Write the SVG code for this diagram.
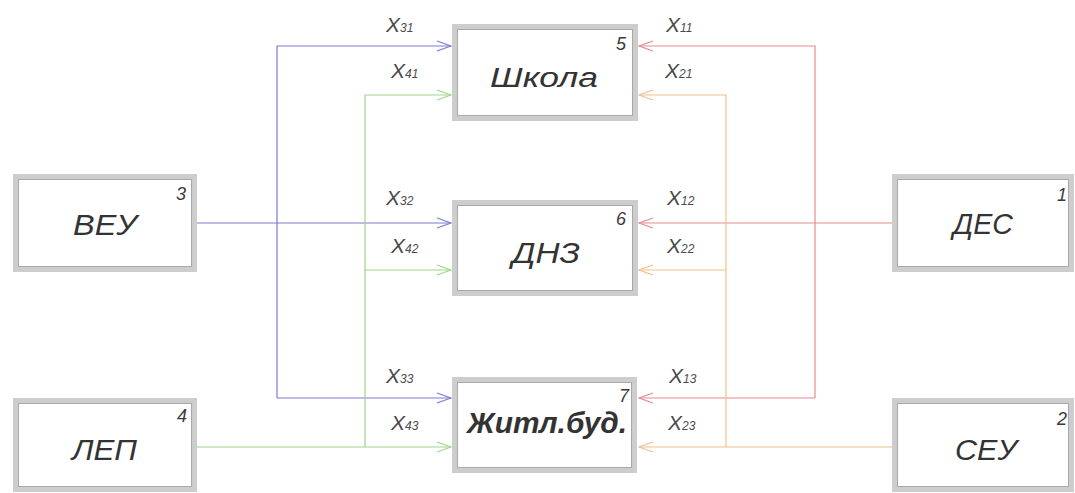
<svg xmlns="http://www.w3.org/2000/svg" width="1075" height="493" viewBox="0 0 1075 493">
  <style>
    .frame { fill: #ffffff; stroke: #cdcdcd; stroke-width: 5; }
    .inner { fill: none; stroke: #a9a9a9; stroke-width: 1; }
    .name { font-family: "Liberation Sans", "DejaVu Sans", sans-serif; font-style: italic; fill: #333333; }
    .num { font-family: "Liberation Sans", "DejaVu Sans", sans-serif; font-style: italic; font-size: 18px; fill: #3a3a3a; text-anchor: middle; }
    .lbl { font-family: "Liberation Sans", "DejaVu Sans", sans-serif; font-style: italic; font-size: 21px; fill: #4a4a4a; }
    .lbl tspan { font-size: 12px; }
    .line { fill: none; stroke-width: 1.2; }
    .blue { stroke: #7b7bd2; }
    .green { stroke: #9dd68b; }
    .red { stroke: #e38c8c; }
    .orange { stroke: #f0c08c; }
  </style>
  <defs>
    <marker id="ah-blue" markerUnits="userSpaceOnUse" markerWidth="16" markerHeight="12" viewBox="0 0 16 12" refX="15" refY="6" orient="auto">
      <path d="M1,1 L15,6 L1,11" fill="none" stroke="#7b7bd2" stroke-width="1.2"/>
    </marker>
    <marker id="ah-green" markerUnits="userSpaceOnUse" markerWidth="16" markerHeight="12" viewBox="0 0 16 12" refX="15" refY="6" orient="auto">
      <path d="M1,1 L15,6 L1,11" fill="none" stroke="#9dd68b" stroke-width="1.2"/>
    </marker>
    <marker id="ah-red" markerUnits="userSpaceOnUse" markerWidth="16" markerHeight="12" viewBox="0 0 16 12" refX="15" refY="6" orient="auto">
      <path d="M1,1 L15,6 L1,11" fill="none" stroke="#e38c8c" stroke-width="1.2"/>
    </marker>
    <marker id="ah-orange" markerUnits="userSpaceOnUse" markerWidth="16" markerHeight="12" viewBox="0 0 16 12" refX="15" refY="6" orient="auto">
      <path d="M1,1 L15,6 L1,11" fill="none" stroke="#f0c08c" stroke-width="1.2"/>
    </marker>
  </defs>
  <rect width="1075" height="493" fill="#ffffff"/>

  <!-- connectors -->
  <g id="connectors">
    <!-- ВЕУ (3) -->
    <path class="line blue" d="M197,223 H451" marker-end="url(#ah-blue)"/>
    <path class="line blue" d="M277,398 V46 H451" marker-end="url(#ah-blue)"/>
    <path class="line blue" d="M277,398 H451" marker-end="url(#ah-blue)"/>
    <!-- ЛЕП (4) -->
    <path class="line green" d="M197,447 H451" marker-end="url(#ah-green)"/>
    <path class="line green" d="M365,447 V95 H451" marker-end="url(#ah-green)"/>
    <path class="line green" d="M365,270 H451" marker-end="url(#ah-green)"/>
    <!-- ДЕС (1) -->
    <path class="line red" d="M892,223 H639" marker-end="url(#ah-red)"/>
    <path class="line red" d="M815,398 V46 H639" marker-end="url(#ah-red)"/>
    <path class="line red" d="M815,398 H639" marker-end="url(#ah-red)"/>
    <!-- СЕУ (2) -->
    <path class="line orange" d="M892,447 H639" marker-end="url(#ah-orange)"/>
    <path class="line orange" d="M726,447 V95 H639" marker-end="url(#ah-orange)"/>
    <path class="line orange" d="M726,270 H639" marker-end="url(#ah-orange)"/>

    <!-- flow labels -->
    <text class="lbl" x="386" y="32">X<tspan>31</tspan></text>
    <text class="lbl" x="391" y="78">X<tspan>41</tspan></text>
    <text class="lbl" x="386" y="205">X<tspan>32</tspan></text>
    <text class="lbl" x="391" y="253">X<tspan>42</tspan></text>
    <text class="lbl" x="386" y="383">X<tspan>33</tspan></text>
    <text class="lbl" x="391" y="430">X<tspan>43</tspan></text>
    <text class="lbl" x="666" y="32">X<tspan>11</tspan></text>
    <text class="lbl" x="665" y="78">X<tspan>21</tspan></text>
    <text class="lbl" x="667" y="205">X<tspan>12</tspan></text>
    <text class="lbl" x="667" y="253">X<tspan>22</tspan></text>
    <text class="lbl" x="669" y="383">X<tspan>13</tspan></text>
    <text class="lbl" x="668" y="430">X<tspan>23</tspan></text>
  </g>

  <!-- consumers -->
  <g id="node-5">
    <rect class="frame" x="454.5" y="26.5" width="181" height="92"/>
    <rect class="inner" x="457.5" y="29.5" width="175" height="86"/>
    <text class="name" x="490" y="87" font-size="27" textLength="108" lengthAdjust="spacingAndGlyphs">Школа</text>
    <text class="num" x="621" y="50">5</text>
  </g>
  <g id="node-6">
    <rect class="frame" x="454.5" y="202.5" width="181" height="91"/>
    <rect class="inner" x="457.5" y="205.5" width="175" height="85"/>
    <text class="name" x="512" y="263" font-size="29" textLength="68" lengthAdjust="spacingAndGlyphs">ДНЗ</text>
    <text class="num" x="621" y="225">6</text>
  </g>
  <g id="node-7">
    <rect class="frame" x="454.5" y="379.5" width="180" height="91"/>
    <rect class="inner" x="457.5" y="382.5" width="174" height="85"/>
    <text class="name" x="467" y="433" font-size="29" font-weight="bold" textLength="160" lengthAdjust="spacingAndGlyphs">Житл.буд.</text>
    <text class="num" x="624" y="402">7</text>
  </g>

  <!-- sources -->
  <g id="node-3">
    <rect class="frame" x="15.5" y="176.5" width="179" height="93"/>
    <rect class="inner" x="18.5" y="179.5" width="173" height="87"/>
    <text class="name" x="73" y="235" font-size="30" textLength="64" lengthAdjust="spacingAndGlyphs">ВЕУ</text>
    <text class="num" x="181" y="200">3</text>
  </g>
  <g id="node-4">
    <rect class="frame" x="15.5" y="400.5" width="179" height="89"/>
    <rect class="inner" x="18.5" y="403.5" width="173" height="83"/>
    <text class="name" x="72" y="460" font-size="30" textLength="65" lengthAdjust="spacingAndGlyphs">ЛЕП</text>
    <text class="num" x="182" y="422">4</text>
  </g>
  <g id="node-1">
    <rect class="frame" x="894.5" y="176.5" width="177" height="93"/>
    <rect class="inner" x="897.5" y="179.5" width="171" height="87"/>
    <text class="name" x="953" y="234" font-size="30" textLength="60" lengthAdjust="spacingAndGlyphs">ДЕС</text>
    <text class="num" x="1062" y="201">1</text>
  </g>
  <g id="node-2">
    <rect class="frame" x="894.5" y="400.5" width="177" height="89"/>
    <rect class="inner" x="897.5" y="403.5" width="171" height="83"/>
    <text class="name" x="955" y="460" font-size="30" textLength="62" lengthAdjust="spacingAndGlyphs">СЕУ</text>
    <text class="num" x="1062" y="425">2</text>
  </g>
</svg>
